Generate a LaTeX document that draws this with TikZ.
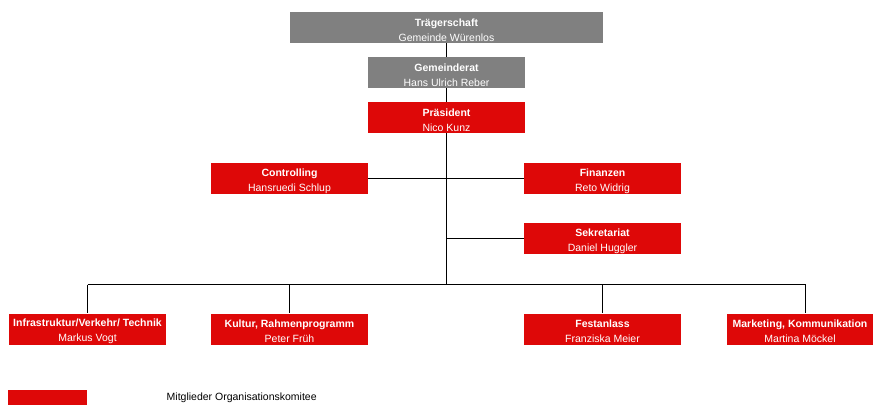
\documentclass[tikz,border=0pt]{standalone}
\usepackage{fontspec}
\setmainfont{Liberation Sans}
\usepackage{tikz}

\definecolor{okred}{RGB}{222,8,8}
\definecolor{okgray}{RGB}{128,128,128}
% title line and name line of one unit
\newcommand{\orgunit}[2]{\rule{0pt}{12.5pt}\textbf{#1}\\#2}

\begin{document}
\begin{tikzpicture}[x=1pt,y=-1pt,
		every node/.style={inner sep=0pt,font=\fontsize{10.5}{15}\selectfont},
		unitbox/.style={minimum width=157pt,minimum height=31pt,align=center,text=white},
		redbox/.style={unitbox,fill=okred},
		graybox/.style={unitbox,fill=okgray},
		link/.style={draw=black,line width=0.9pt}]
		\useasboundingbox (0,0) rectangle (875,405);

		% Supervisory bodies
		\node[graybox,minimum width=313pt] (traeger) at (446.5,27.5) {\orgunit{Trägerschaft}{Gemeinde Würenlos}};
		\node[graybox] (rat) at (446.5,72.5) {\orgunit{Gemeinderat}{Hans Ulrich Reber}};
		\node[redbox]  (praes) at (446.5,117.5) {\orgunit{Präsident}{Nico Kunz}};

		% Staff units
		\node[redbox] (contr) at (289.5,178.5) {\orgunit{Controlling}{Hansruedi Schlup}};
		\node[redbox] (fin)   at (602.5,178.5) {\orgunit{Finanzen}{Reto Widrig}};
		\node[redbox] (sekr)  at (602.5,238.5) {\orgunit{Sekretariat}{Daniel Huggler}};

		% Departments
		\node[redbox] (infra) at (87.5,329) {\orgunit{Infrastruktur/Verkehr/ Technik}{Markus Vogt}};
		\node[redbox] (kult)  at (289.5,329) {\orgunit{Kultur, Rahmenprogramm}{Peter Früh}};
		\node[redbox] (fest)  at (602.5,329) {\orgunit{Festanlass}{Franziska Meier}};
		\node[redbox,minimum width=146pt] (mark) at (800,329) {\orgunit{Marketing, Kommunikation}{Martina Möckel}};

		% Bus points
		\coordinate (hub)  at (446.5,284.5);
		\coordinate (sk)   at (446.5,238.5);
		\coordinate (b1)   at (87.5,284.5);
		\coordinate (b2)   at (289.5,284.5);
		\coordinate (b3)   at (602.5,284.5);
		\coordinate (b4)   at (805.5,284.5);

		% Lines
		\draw[link] (traeger) -- (rat);
		\draw[link] (rat) -- (praes);
		\draw[link] (praes) -- (hub);
		\draw[link] (contr) -- (fin);
		\draw[link] (sk) -- (sekr);
		\draw[link] (b1) -- (b4);
		\foreach \b/\n in {b1/infra,b2/kult,b3/fest,b4/mark} {
			\draw[link] (\b) -- (\b |- \n.north);
		}

		% Legend
		\node[fill=okred,minimum width=79pt,minimum height=15pt] (key) at (47.5,397.5) {};
		\node[anchor=west,font=\fontsize{10.5}{12}\selectfont] (keytext) at (166.5,398) {Mitglieder Organisationskomitee};
	\end{tikzpicture}
\end{document}
